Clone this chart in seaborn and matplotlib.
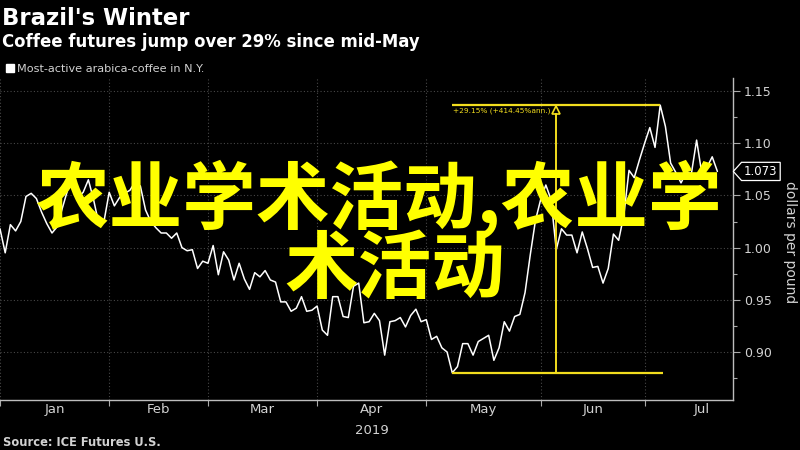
import numpy as np
import pandas as pd
import matplotlib
matplotlib.use("Agg")
import matplotlib.pyplot as plt
from matplotlib.ticker import MultipleLocator, FormatStrFormatter
from matplotlib.patches import Rectangle
from matplotlib.path import Path
import seaborn as sns

# ---------------- data ----------------
start_date = "2019-01-02"
holidays = ["2019-01-21", "2019-02-18", "2019-04-19", "2019-05-27", "2019-07-04"]
prices = [
    1.018, 0.995, 1.022, 1.016, 1.025, 1.049, 1.052, 1.047, 1.034, 1.023,
    1.014, 1.020, 1.038, 1.055, 1.062, 1.048, 1.053, 1.065, 1.046, 1.023,
    1.025, 1.053, 1.040, 1.048, 1.052, 1.055, 1.063, 1.059, 1.036, 1.025,
    1.019, 1.014, 1.014, 1.009, 1.014, 1.000, 0.997, 0.998, 0.980, 0.987,
    0.985, 1.002, 0.974, 0.996, 0.988, 0.969, 0.985, 0.970, 0.960, 0.976,
    0.972, 0.978, 0.969, 0.967, 0.948, 0.948, 0.939, 0.942, 0.953, 0.939,
    0.940, 0.944, 0.921, 0.916, 0.953, 0.953, 0.934, 0.933, 0.963, 0.966,
    0.928, 0.929, 0.937, 0.930, 0.897, 0.929, 0.930, 0.933, 0.924, 0.935,
    0.941, 0.929, 0.931, 0.912, 0.915, 0.904, 0.900, 0.880, 0.886, 0.908,
    0.908, 0.897, 0.910, 0.913, 0.916, 0.892, 0.904, 0.929, 0.920, 0.934,
    0.936, 0.957, 0.993, 1.026, 1.046, 1.060, 1.046, 0.998, 1.018, 1.012,
    1.012, 0.995, 1.015, 0.999, 0.981, 0.982, 0.966, 0.980, 1.013, 1.007,
    1.031, 1.074, 1.067, 1.084, 1.100, 1.115, 1.096, 1.1365, 1.116, 1.081,
    1.072, 1.062, 1.072, 1.071, 1.103, 1.071, 1.077, 1.087, 1.073,
]
month_labels = ["Jan", "Feb", "Mar", "Apr", "May", "Jun", "Jul"]
year_label = "2019"
y_ticks = [0.90, 0.95, 1.00, 1.05, 1.10, 1.15]
last_label = "1.073"
title = "Brazil's Winter"
subtitle = "Coffee futures jump over 29% since mid-May"
legend_label = "Most-active arabica-coffee in N.Y."
source = "Source: ICE Futures U.S."
y_label = "dollars per pound"
change_label = "+29.15% (+414.45%ann.)"
overlay_line1 = "农业学术活动,农业学"
overlay_line2 = "术活动"

# ---------------- prep ----------------
cal = pd.offsets.CustomBusinessDay(holidays=holidays)
all_days = pd.date_range(start_date, "2019-08-01", freq=cal)
dates = all_days[: len(prices)]
df = pd.DataFrame({"date": dates, "pos": np.arange(len(prices)), "price": prices})

months = all_days.month
month_starts = [int(np.argmax(months == m)) for m in range(1, 9)]
tick_pos = month_starts[:7]
label_pos = [(month_starts[i] + month_starts[i + 1]) / 2 for i in range(7)]

sns.set_theme(style="dark")
plt.rcParams["font.family"] = ["DejaVu Sans"]

fg = "#d2d2d2"
yellow = "#F2DD1E"


def tag_box(x0, y0, width, height, mutation_size):
    pad = 0.22 * mutation_size
    x0, y0 = x0 - pad, y0 - pad
    w, h = width + 2 * pad, height + 2 * pad
    tip = h * 0.45
    verts = [(x0 - tip, y0 + h / 2), (x0, y0), (x0 + w, y0), (x0 + w, y0 + h),
             (x0, y0 + h), (x0 - tip, y0 + h / 2)]
    codes = [Path.MOVETO] + [Path.LINETO] * 4 + [Path.CLOSEPOLY]
    return Path(verts, codes)


fig = plt.figure(figsize=(8, 4.5), dpi=100, facecolor="black")
ax = fig.add_axes([0.0, 1 - 400 / 450, 733 / 800, (400 - 78) / 450])
ax.set_facecolor("black")

sns.lineplot(data=df, x="pos", y="price", color="white", linewidth=1.1, ax=ax)

ax.set_xlim(0, 141)
ax.set_ylim(0.854, 1.1625)

# x axis
ax.set_xticks(tick_pos)
ax.set_xticklabels([])
ax.set_xticks(label_pos, minor=True)
ax.set_xticklabels(month_labels, minor=True)
ax.tick_params(axis="x", which="major", length=4, width=0.8, color="#aaaaaa", bottom=True)
ax.tick_params(axis="x", which="minor", length=0, pad=2, labelsize=9.5, labelcolor=fg)
ax.set_xlabel("")
ax.text(label_pos[3], -0.075, year_label, transform=ax.get_xaxis_transform(),
        ha="center", va="top", fontsize=9.5, color=fg)

# y axis on right
ax.yaxis.tick_right()
ax.set_yticks(y_ticks)
ax.yaxis.set_major_formatter(FormatStrFormatter("%.2f"))
ax.yaxis.set_minor_locator(MultipleLocator(0.025))
ax.tick_params(axis="y", which="major", length=5, width=0.8, color="#aaaaaa",
               right=True, left=False, labelsize=9, labelcolor=fg, pad=3)
ax.tick_params(axis="y", which="minor", length=3, width=0.8, color="#aaaaaa",
               right=True, left=False)
ax.set_ylabel("")
fig.text(790 / 800, 1 - 242 / 450, y_label, rotation=-90, ha="center", va="center",
         fontsize=10, color=fg)

# grid
ax.grid(True, axis="both", which="major", color="#474747", linestyle=(0, (1, 2)), linewidth=0.8)
ax.grid(False, which="minor")

for s in ["top", "left"]:
    ax.spines[s].set_visible(False)
for s in ["bottom", "right"]:
    ax.spines[s].set_visible(True)
    ax.spines[s].set_color("#bdbdbd")
    ax.spines[s].set_linewidth(1.0)

# last value tag
last = prices[-1]
ax.annotate(last_label, xy=(1.0, last), xycoords=("axes fraction", "data"),
            xytext=(8, 0), textcoords="offset points", ha="left", va="center",
            color="white", fontsize=8.5, annotation_clip=False,
            bbox=dict(boxstyle=tag_box, fc="black", ec="white", lw=0.9))

# change annotation
lo_i = int(np.argmin(prices))
hi_i = int(np.argmax(prices))
lo, hi = prices[lo_i], prices[hi_i]
mid_i = (lo_i + hi_i) / 2
ax.hlines(hi, lo_i, hi_i, color=yellow, lw=1.6, zorder=3)
ax.hlines(lo, lo_i, hi_i + 0.5, color=yellow, lw=1.6, zorder=3)
ax.vlines(mid_i, lo, hi - 0.0075, color=yellow, lw=1.4, zorder=3)
ax.plot([mid_i], [hi - 0.0045], marker="^", ms=6, mfc="none", mec=yellow, mew=1.2, zorder=4)
ax.text(lo_i + 0.2, hi - 0.005, change_label, ha="left", va="center", fontsize=5.3,
        color=yellow, zorder=4)

# header
fig.text(2 / 800, 1 - 25 / 450, title, ha="left", va="baseline", fontsize=16.4,
         weight="bold", color="white")
fig.text(2 / 800, 1 - 47 / 450, subtitle, ha="left", va="baseline", fontsize=11.9,
         weight="bold", color="white")
fig.patches.append(Rectangle((6 / 800, 1 - 72 / 450), 8 / 800, 8 / 450,
                             transform=fig.transFigure, color="white"))
fig.text(17 / 800, 1 - 72 / 450, legend_label, ha="left", va="baseline", fontsize=8.1,
         color=fg)
fig.text(3 / 800, 1 - 446 / 450, source, ha="left", va="baseline", fontsize=8.3,
         weight="bold", color=fg)

# overlay text
cjk = ["Noto Sans CJK SC", "DejaVu Sans"]
fig.text(378 / 800, 1 - 199 / 450, overlay_line1, ha="center", va="center", fontsize=53,
         weight="bold", color="#FFFF00", family=cjk, zorder=10)
fig.text(395 / 800, 1 - 271 / 450, overlay_line2, ha="center", va="center", fontsize=53,
         weight="bold", color="#FFFF00", family=cjk, zorder=10)

fig.savefig("out.png", dpi=100, facecolor="black")
